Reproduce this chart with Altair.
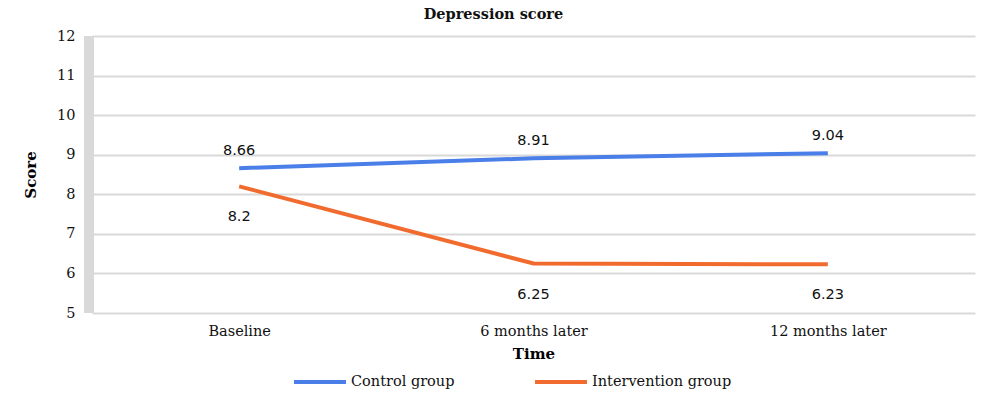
import altair as alt
import pandas as pd

times = ["Baseline", "6 months later", "12 months later"]
control = [8.66, 8.91, 9.04]
intervention = [8.2, 6.25, 6.23]
groups = ["Control group", "Intervention group"]
colors = ["#4a7ee8", "#f26b2e"]
y_ticks = [5, 6, 7, 8, 9, 10, 11, 12]

rows = []
for t, c, i in zip(times, control, intervention):
    rows.append({"Time": t, "Score": c, "Group": groups[0]})
    rows.append({"Time": t, "Score": i, "Group": groups[1]})
df = pd.DataFrame(rows)

SERIF = "DejaVu Serif"
SANS = "DejaVu Sans"

x = alt.X("Time:N", sort=times, title="Time",
          scale=alt.Scale(paddingInner=0, paddingOuter=0),
          axis=alt.Axis(labelAngle=0, labelFont=SERIF, labelFontSize=14.5, labelColor="#111",
                        labelPadding=11, titleFont=SERIF, titleFontSize=15, titleFontWeight="bold",
                        titlePadding=9, domain=False, ticks=False, grid=False))
y = alt.Y("Score:Q", title="Score",
          scale=alt.Scale(domain=[5, 12], nice=False, zero=False),
          axis=alt.Axis(values=y_ticks, labelOverlap=False, labelFlush=False,
                        labelFont=SERIF, labelFontSize=14.5,
                        labelColor="#111", labelPadding=17, titleFont=SERIF, titleFontSize=15,
                        titleFontWeight="bold", titlePadding=18, domain=False, ticks=False,
                        grid=True, gridColor="#d9d9d9", gridWidth=2))
color = alt.Color("Group:N", scale=alt.Scale(domain=groups, range=colors),
                  legend=alt.Legend(title=None, orient="none", direction="horizontal",
                                    legendX=200, legendY=318, symbolType="stroke",
                                    symbolSize=2700, symbolStrokeWidth=4, labelFont=SERIF,
                                    labelFontSize=14.5, labelColor="#111", columnPadding=72,
                                    labelOffset=3))

wall = alt.Chart(pd.DataFrame({"a": [0]})).mark_rect(color="#d9d9d9").encode(
    x=alt.value(-8), x2=alt.value(2), y=alt.value(0), y2=alt.value(277))

lines = alt.Chart(df).mark_line(strokeWidth=4).encode(x=x, y=y, color=color)

lab_c = alt.Chart(df[df.Group == groups[0]]).mark_text(
    font=SANS, fontSize=14.5, color="#111", dy=-17).encode(
    x=x, y=y, text=alt.Text("Score:Q"))
lab_i = alt.Chart(df[df.Group == groups[1]]).mark_text(
    font=SANS, fontSize=14.5, color="#111", dy=31).encode(
    x=x, y=y, text=alt.Text("Score:Q"))

chart = alt.layer(lines, wall, lab_c, lab_i).properties(
    width=883, height=277,
    autosize=alt.AutoSizeParams(type="none"),
    padding={"left": 84, "top": 28, "right": 10, "bottom": 83},
    title=alt.TitleParams("Depression score", font=SERIF, fontSize=14.5, fontWeight="bold",
                          color="#111", anchor="middle", offset=3, dx=-40, dy=-3),
).configure_view(stroke=None)

chart.save("out.html", embed_options={"renderer": "svg", "actions": False})
